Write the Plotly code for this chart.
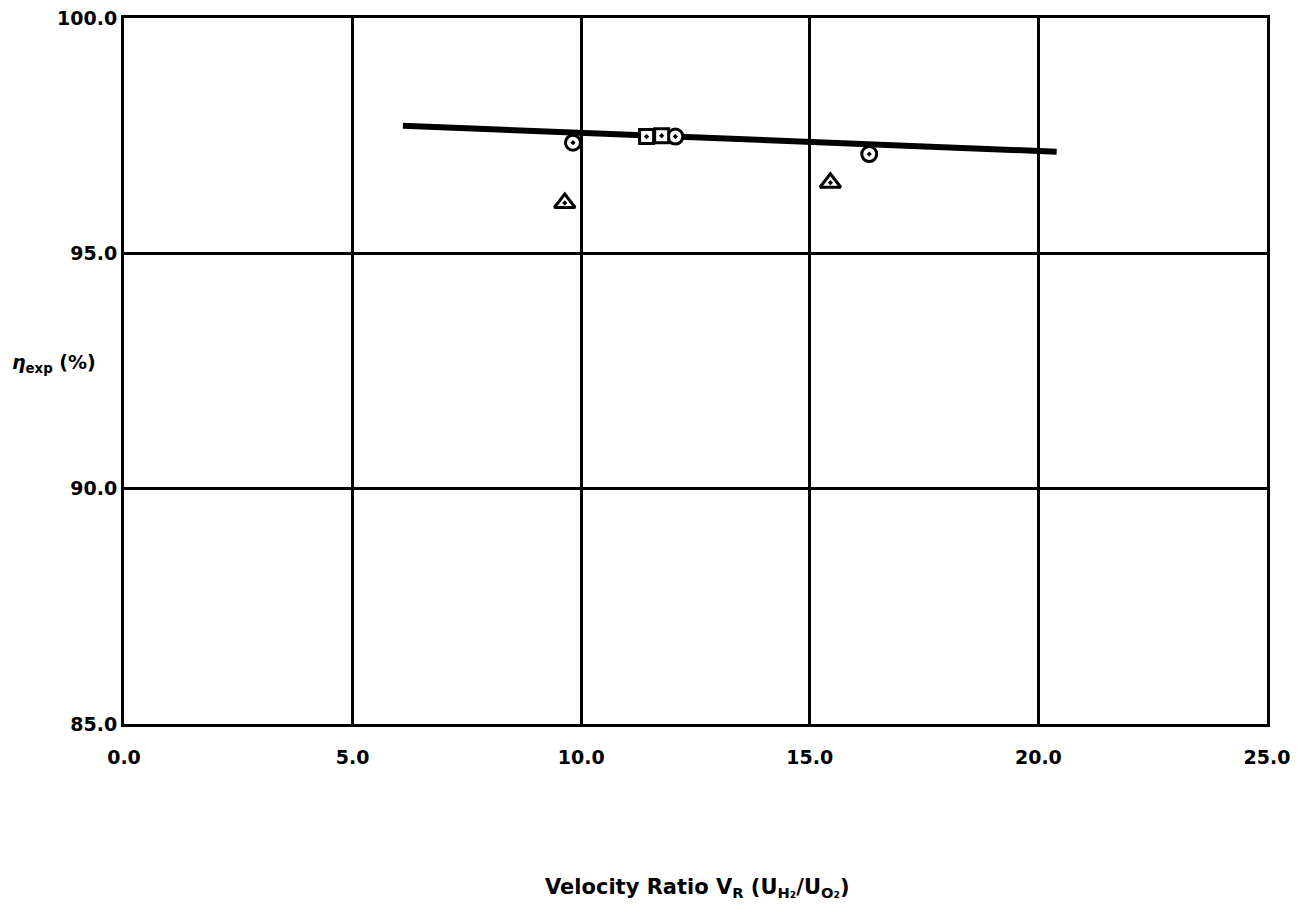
import plotly.graph_objects as go

# Data
fit_x = [6.1, 20.4]
fit_y = [97.71, 97.16]

circle_x = [9.82, 12.06, 16.3]
circle_y = [97.35, 97.48, 97.11]

square_x = [11.43, 11.76]
square_y = [97.48, 97.5]

triangle_x = [9.64, 15.45]
triangle_y = [96.07, 96.5]

x_ticks = [0, 5, 10, 15, 20, 25]
x_labels = ["0.0", "5.0", "10.0", "15.0", "20.0", "25.0"]
y_ticks = [85, 90, 95, 100]
y_labels = ["85.0", "90.0", "95.0", "100.0"]

FONT = "DejaVu Sans"

fig = go.Figure()
fig.add_trace(go.Scatter(x=fit_x, y=fit_y, mode="lines",
                         line=dict(color="black", width=6), showlegend=False))
mk = dict(color="white", line=dict(color="black", width=3))
fig.add_trace(go.Scatter(x=circle_x, y=circle_y, mode="markers",
                         marker=dict(symbol="circle-dot", size=15, **mk), showlegend=False))
fig.add_trace(go.Scatter(x=square_x, y=square_y, mode="markers",
                         marker=dict(symbol="square-dot", size=14, **mk), showlegend=False))
fig.add_trace(go.Scatter(x=triangle_x, y=triangle_y, mode="markers",
                         marker=dict(symbol="triangle-up-dot", size=18, **mk), showlegend=False))

font = dict(family=FONT, size=19, color="black")
fig.update_layout(
    width=1307, height=912,
    margin=dict(l=116, r=48, t=10, b=196, autoexpand=False),
    plot_bgcolor="white", paper_bgcolor="white",
    font=font,
    xaxis=dict(range=[0, 25], tickvals=x_ticks, ticktext=["<b>%s</b>" % t for t in x_labels],
               showgrid=True, gridcolor="black", gridwidth=3, automargin=False,
               ticklabeloverflow="allow",
               showline=True, linecolor="black", linewidth=3, mirror=True,
               zeroline=False, ticks="outside", ticklen=14, tickcolor="rgba(0,0,0,0)"),
    yaxis=dict(range=[85, 100], tickvals=y_ticks, ticktext=["<b>%s</b>" % t for t in y_labels],
               showgrid=True, gridcolor="black", gridwidth=3, automargin=False,
               ticklabeloverflow="allow",
               showline=True, linecolor="black", linewidth=3, mirror=True,
               zeroline=False, ticks="", ticklen=0),
    annotations=[
        dict(text="<b>Velocity Ratio V<sub>R</sub> (U<sub>H₂</sub>/U<sub>O₂</sub>)</b>",
             xref="paper", yref="paper", x=0.502, y=-0.233, yanchor="middle",
             showarrow=False, font=dict(family=FONT, size=21, color="black")),
        dict(text="<b><i>η</i><sub>exp</sub> (%)</b>",
             xref="paper", yref="paper", x=-0.1, y=0.51, xanchor="left",
             showarrow=False, font=dict(family=FONT, size=19, color="black")),
    ],
)
fig.write_html("out.html")
